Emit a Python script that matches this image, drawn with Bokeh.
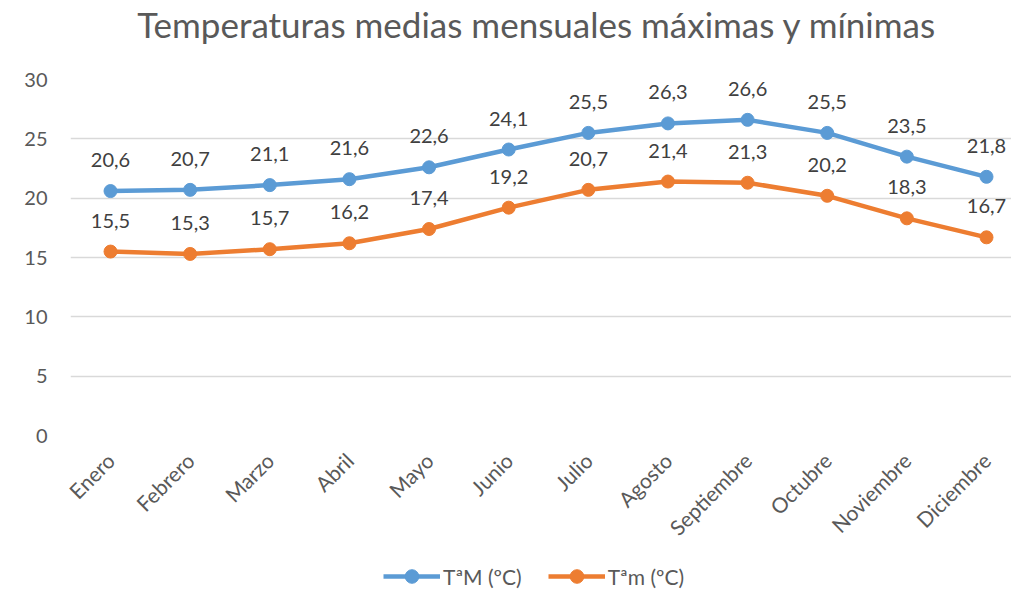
import math
from bokeh.plotting import figure
from bokeh.layouts import column
from bokeh.models import (Range1d, FixedTicker, ColumnDataSource, Legend, LegendItem, Label)
from bokeh.core.properties import value
from bokeh.embed import file_html
from bokeh.resources import INLINE

title_text = "Temperaturas medias mensuales máximas y mínimas"
months = ["Enero", "Febrero", "Marzo", "Abril", "Mayo", "Junio", "Julio",
          "Agosto", "Septiembre", "Octubre", "Noviembre", "Diciembre"]
tmax = [20.6, 20.7, 21.1, 21.6, 22.6, 24.1, 25.5, 26.3, 26.6, 25.5, 23.5, 21.8]
tmin = [15.5, 15.3, 15.7, 16.2, 17.4, 19.2, 20.7, 21.4, 21.3, 20.2, 18.3, 16.7]
series_names = ["TªM (ºC)", "Tªm (ºC)"]
y_ticks = [0, 5, 10, 15, 20, 25, 30]

FONT = "Lato"
BLUE = "#5B9BD5"
ORANGE = "#ED7D31"
GRAY_TXT = "#595959"
LABEL_TXT = "#404040"
COLORS = [BLUE, ORANGE]

xs = list(range(len(months)))

def fmt(v):
    return f"{v:.1f}".replace(".", ",")

src_max = ColumnDataSource(dict(x=xs, y=tmax, lab=[fmt(v) for v in tmax]))
src_min = ColumnDataSource(dict(x=xs, y=tmin, lab=[fmt(v) for v in tmin]))

W = 1011
H_TITLE = 50
H_MAIN = 501
H_LEG = 38
FRAME_LEFT = 70


def blank_fig(h):
    f = figure(width=W, height=h, output_backend="svg", toolbar_location=None,
               x_range=Range1d(FRAME_LEFT, W), y_range=Range1d(0, h),
               x_axis_type=None, y_axis_type=None,
               min_border_left=FRAME_LEFT, min_border_right=0,
               min_border_top=0, min_border_bottom=0)
    f.outline_line_color = None
    f.xgrid.grid_line_color = None
    f.ygrid.grid_line_color = None
    f.background_fill_color = "white"
    f.border_fill_color = "white"
    f.title.visible = False
    return f

# ---- title strip
tf = blank_fig(H_TITLE)
tf.add_layout(Label(x=536.5, y=H_TITLE - 23, text=title_text,
                    text_font=FONT, text_font_size="35px", text_color=GRAY_TXT,
                    text_align="center", text_baseline="middle"))

# ---- main chart
p = figure(width=W, height=H_MAIN, output_backend="svg", toolbar_location=None,
           x_range=Range1d(-0.5025, 11.314), y_range=Range1d(0, 30),
           min_border_left=FRAME_LEFT, min_border_right=0, min_border_top=79 - H_TITLE,
           min_border_bottom=H_TITLE + H_MAIN - 436)
p.title.visible = False
p.outline_line_color = None
p.background_fill_color = "white"
p.border_fill_color = "white"

p.xgrid.grid_line_color = None
p.ygrid.grid_line_color = "#D9D9D9"
p.ygrid.grid_line_width = 1.3
p.yaxis.ticker = FixedTicker(ticks=y_ticks)
p.xaxis.ticker = FixedTicker(ticks=xs)
p.xaxis.major_label_overrides = {i: m for i, m in enumerate(months)}

for ax in (p.xaxis[0], p.yaxis[0]):
    ax.axis_line_color = None
    ax.major_tick_line_color = None
    ax.minor_tick_line_color = None
    ax.major_tick_out = 0
    ax.major_tick_in = 0
    ax.major_label_text_font = FONT
    ax.major_label_text_color = GRAY_TXT

p.yaxis.major_label_text_font_size = "20px"
p.xaxis.major_label_text_font_size = "21px"
p.yaxis.major_label_standoff = 23
p.xaxis.major_label_orientation = math.pi / 4
p.xaxis.major_label_standoff = 21

p.line("x", "y", source=src_max, line_color=BLUE, line_width=4.5)
p.scatter("x", "y", source=src_max, size=13, fill_color=BLUE, line_color=BLUE)
p.line("x", "y", source=src_min, line_color=ORANGE, line_width=4.5)
p.scatter("x", "y", source=src_min, size=13, fill_color=ORANGE, line_color=ORANGE)

for src in (src_max, src_min):
    p.text("x", "y", text="lab", source=src, text_font=value(FONT),
           text_font_size="20px", text_color=LABEL_TXT, text_align="center",
           text_baseline="middle", y_offset=-31)

# ---- legend strip
lf = blank_fig(H_LEG)
items = []
for name, col in zip(series_names, COLORS):
    dummy = ColumnDataSource(dict(x=[float("nan")], y=[float("nan")]))
    lr = lf.line("x", "y", source=dummy, line_color=col, line_width=4.5)
    sr = lf.scatter("x", "y", source=dummy, size=13, fill_color=col, line_color=col)
    items.append(LegendItem(label=name, renderers=[lr, sr]))

legend = Legend(items=items, orientation="horizontal", location=(383 - FRAME_LEFT, -4),
                border_line_color=None, background_fill_alpha=0,
                padding=0, margin=0, spacing=26, label_standoff=3,
                glyph_width=57, glyph_height=34,
                label_text_font=FONT, label_text_font_size="21px",
                label_text_color=GRAY_TXT)
lf.add_layout(legend, "center")

layout = column(tf, p, lf, spacing=0)
open("out.html", "w").write(file_html(layout, INLINE))
